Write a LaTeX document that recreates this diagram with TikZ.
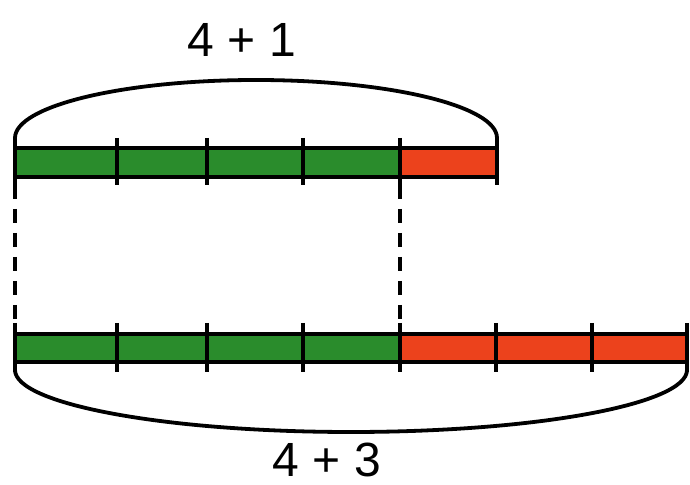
\documentclass[tikz,border=0pt]{standalone}
\usepackage{fontspec}
\setmainfont{Liberation Sans}
\definecolor{partGreen}{RGB}{42,140,44}
\definecolor{partRed}{RGB}{236,66,28}
\begin{document}
\begin{tikzpicture}[x=0.5pt, y=-0.5pt,
  barpart/.style={draw=black, line width=2.2pt},
  tick/.style={line width=1.8pt},
  brace/.style={line width=1.9pt},
  guide/.style={line width=2pt, dash pattern=on 7pt off 5pt},
  sumlabel/.style={font=\fontsize{24}{28}\selectfont, inner sep=1pt}]
\useasboundingbox[fill=white] (0,0) rectangle (690,485);
% upper bar: 4 green parts and 1 red part
\fill[partGreen] (15,148) rectangle (400,177);
\fill[partRed] (400,148) rectangle (497,177);
\draw[barpart] (15,148) rectangle (497,177);
\draw[tick] (15,138) -- (15,185);
\draw[tick] (117,138) -- (117,185);
\draw[tick] (207,138) -- (207,185);
\draw[tick] (303,138) -- (303,185);
\draw[tick] (400,138) -- (400,185);
\draw[tick] (497,138) -- (497,185);
% lower bar: 4 green parts and 3 red parts
\fill[partGreen] (15,334) rectangle (400,362);
\fill[partRed] (400,334) rectangle (687,362);
\draw[barpart] (15,334) rectangle (687,362);
\draw[tick] (15,323) -- (15,372);
\draw[tick] (117,323) -- (117,372);
\draw[tick] (207,323) -- (207,372);
\draw[tick] (303,323) -- (303,372);
\draw[tick] (400,323) -- (400,372);
\draw[tick] (496,323) -- (496,372);
\draw[tick] (592,323) -- (592,372);
\draw[tick] (687,323) -- (687,372);
% ends of the braces and guides
\coordinate (topL) at (15,138);
\coordinate (topR) at (497,138);
\coordinate (botL) at (15,370);
\coordinate (botR) at (687,370);
\coordinate (guideA1) at (15,185);
\coordinate (guideA2) at (15,323);
\coordinate (guideB1) at (400,185);
\coordinate (guideB2) at (400,323);
\draw[guide] (guideA1) -- (guideA2);
\draw[guide] (guideB1) -- (guideB2);
\draw[brace] (topL) .. controls (15,106) and (123,80) .. (256,80)
  .. controls (389,80) and (497,106) .. (topR);
\draw[brace] (botL) .. controls (15,404) and (165,432) .. (351,432)
  .. controls (537,432) and (687,404) .. (botR);
\node[sumlabel] (topsum) at (242,40) {4 + 1};
\node[sumlabel] (botsum) at (327,460) {4 + 3};
\end{tikzpicture}
\end{document}
